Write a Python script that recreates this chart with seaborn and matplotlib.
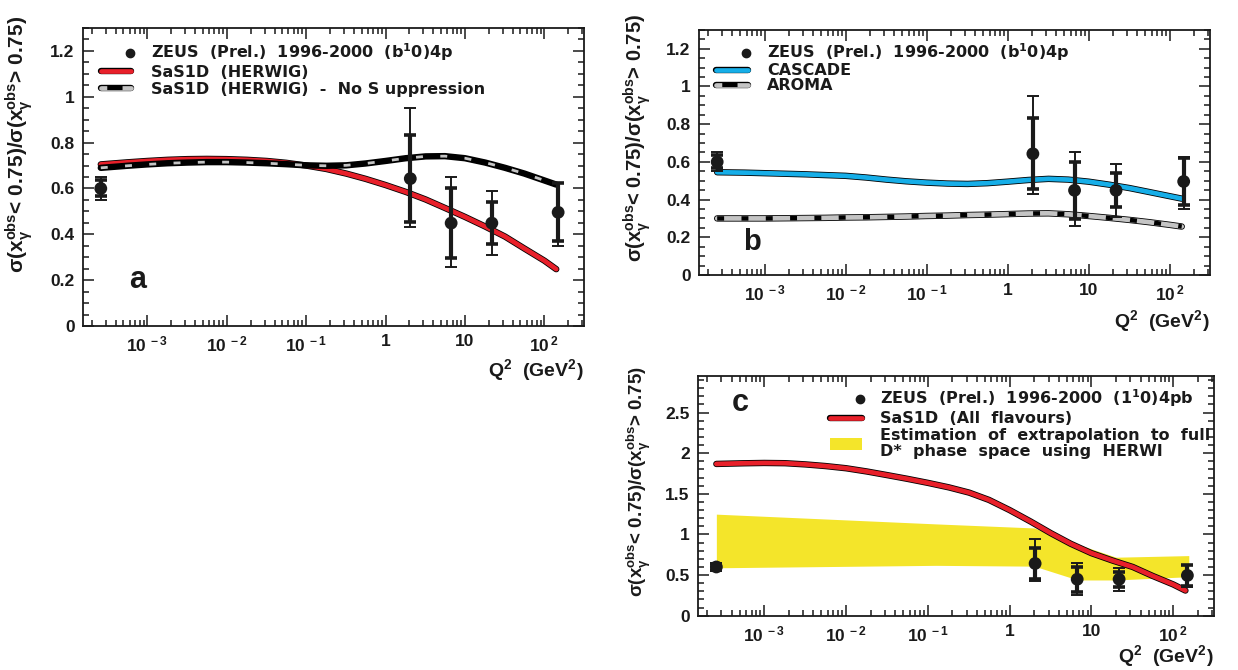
import matplotlib
matplotlib.use("Agg")
import matplotlib.pyplot as plt
import matplotlib.patheffects as pe
from matplotlib.lines import Line2D
from matplotlib.patches import Patch
from matplotlib.legend_handler import HandlerLine2D
from matplotlib.ticker import LogLocator, MultipleLocator, NullFormatter, FuncFormatter
import seaborn as sns

# ZEUS points (same measurement in all three panels)
q2_points = [2.6e-4, 2.05, 6.7, 21.8, 149.0]
ratio_points = [0.600, 0.643, 0.449, 0.449, 0.496]
stat_err_down = [0.035, 0.188, 0.151, 0.091, 0.124]
stat_err_up = [0.035, 0.190, 0.151, 0.094, 0.127]
tot_err_down = [0.050, 0.213, 0.190, 0.139, 0.147]
tot_err_up = [0.050, 0.307, 0.203, 0.141, 0.130]

q2_curve = [2.6e-4, 5.6e-4, 1e-3, 1.8e-3, 3.2e-3, 5.6e-3, 1e-2, 1.8e-2, 3.2e-2, 5.6e-2,
            0.1, 0.18, 0.32, 0.56, 1.0, 1.8, 3.2, 5.6, 10.0, 18.0, 32.0, 56.0, 100.0, 141.0]
sas1d_herwig = [0.705, 0.714, 0.720, 0.725, 0.728, 0.729, 0.728, 0.725, 0.720, 0.712,
                0.700, 0.685, 0.665, 0.642, 0.615, 0.585, 0.552, 0.515, 0.476, 0.434,
                0.390, 0.338, 0.285, 0.248]
sas1d_no_supp = [0.690, 0.699, 0.705, 0.710, 0.713, 0.715, 0.715, 0.713, 0.710, 0.706,
                 0.701, 0.699, 0.701, 0.709, 0.720, 0.732, 0.740, 0.741, 0.732, 0.713,
                 0.690, 0.665, 0.635, 0.617]
cascade = [0.545, 0.543, 0.540, 0.537, 0.534, 0.530, 0.526, 0.517, 0.506, 0.497,
           0.490, 0.485, 0.483, 0.487, 0.495, 0.504, 0.510, 0.506, 0.495, 0.479,
           0.461, 0.440, 0.418, 0.405]
aroma = [0.300, 0.300, 0.300, 0.301, 0.302, 0.303, 0.305, 0.306, 0.308, 0.310,
         0.313, 0.315, 0.318, 0.320, 0.323, 0.326, 0.327, 0.322, 0.313, 0.303,
         0.292, 0.280, 0.266, 0.257]
sas1d_all_flav = [1.868, 1.876, 1.880, 1.877, 1.862, 1.842, 1.815, 1.775, 1.730, 1.685,
                  1.635, 1.580, 1.515, 1.425, 1.300, 1.160, 1.015, 0.885, 0.770, 0.680,
                  0.600, 0.490, 0.385, 0.310]

# HERWIG extrapolation band (panel c)
band_q2 = [2.6e-4, 0.126, 2.0, 6.8, 20.0, 155.0]
band_low = [0.59, 0.62, 0.61, 0.44, 0.44, 0.48]
band_high = [1.25, 1.13, 1.08, 0.88, 0.72, 0.74]

x_tick_pos = [1e-3, 1e-2, 1e-1, 1, 10, 100]
x_tick_labels = [r"10$^{\,-3}$", r"10$^{\,-2}$", r"10$^{\,-1}$", "1", "10", r"10$^{\,2}$"]

YLABEL = r"σ(x$_{\gamma}^{obs}$< 0.75)/σ(x$_{\gamma}^{obs}$> 0.75)"
XLABEL = r"Q$^{2}$  (GeV$^{2}$)"

RED = "#e8202a"
BLUE = "#16aee8"
GREY = "#c4c4c4"
YELLOW = "#f4e52a"
INK = "#1a1a1a"

sns.set_style("ticks")
plt.rcParams["font.family"] = ["Liberation Sans", "DejaVu Sans"]
plt.rcParams["font.weight"] = "bold"
plt.rcParams["axes.labelweight"] = "bold"
plt.rcParams["mathtext.default"] = "regular"
plt.rcParams["lines.scale_dashes"] = False

outline = [pe.Stroke(linewidth=4.6, foreground="black"), pe.Normal()]
LEGEND_FONT = {"family": "DejaVu Sans", "weight": "bold", "size": 11.5}


class MarkerAtEnd(HandlerLine2D):
    # put the data marker at the right end of the legend handle
    def get_xdata(self, legend, xdescent, ydescent, width, height, fontsize):
        x = [-xdescent + 0.9 * width, -xdescent + width]
        return x, x


def style_axis(ax, ymax, ymajor, yminor):
    ax.set_xscale("log")
    ax.set_xlim(1.55e-4, 315)
    ax.set_ylim(0, ymax)
    ax.set_xticks(x_tick_pos)
    ax.set_xticklabels(x_tick_labels)
    ax.xaxis.set_minor_locator(LogLocator(base=10, subs=range(2, 10), numticks=20))
    ax.xaxis.set_minor_formatter(NullFormatter())
    ax.yaxis.set_major_locator(MultipleLocator(ymajor))
    ax.yaxis.set_minor_locator(MultipleLocator(yminor))
    ax.yaxis.set_major_formatter(FuncFormatter(lambda v, p: f"{v:g}"))
    ax.tick_params(which="both", direction="in", top=True, right=True, width=1.1, colors=INK)
    ax.tick_params(which="major", length=8, labelsize=12.5, pad=6)
    ax.tick_params(which="minor", length=4)
    for s in ax.spines.values():
        s.set_visible(True)
        s.set_linewidth(1.3)
        s.set_color(INK)


def draw_points(ax):
    ax.errorbar(q2_points, ratio_points, yerr=[tot_err_down, tot_err_up], fmt="none",
                ecolor=INK, elinewidth=1.4, capsize=4, capthick=1.4, zorder=6)
    ax.errorbar(q2_points, ratio_points, yerr=[stat_err_down, stat_err_up], fmt="none",
                ecolor=INK, elinewidth=3, capsize=4, capthick=2.6, zorder=6)
    sns.scatterplot(x=q2_points, y=ratio_points, ax=ax, color=INK, s=85,
                    edgecolor="none", zorder=7)


def dashed_band(ax, y, base, dash, dash_lw):
    # thick outlined line with a dashed line on top
    sns.lineplot(x=q2_curve, y=y, ax=ax, color=base, lw=3.4, path_effects=outline, zorder=4)
    sns.lineplot(x=q2_curve, y=y, ax=ax, color=dash, lw=dash_lw,
                 linestyle=(0, (5, 12.5)), zorder=5)


def dashed_handle(base, mid):
    h1 = Line2D([], [], color=base, lw=3.4, path_effects=outline)
    h2 = Line2D([], [], color=mid, lw=3.0, linestyle=(0, (0.01, 4.5, 11, 100)))
    return (h1, h2)


def add_legend(ax, handles, labels, anchor, hlen, hpad, spacing, linespacing=1.0):
    leg = ax.legend(handles, labels, loc="upper left", bbox_to_anchor=anchor, frameon=False,
                    prop=LEGEND_FONT, handlelength=hlen, handletextpad=hpad,
                    labelspacing=spacing, borderaxespad=0, borderpad=0, numpoints=1,
                    handler_map={zeus_handle: MarkerAtEnd(numpoints=1)})
    for t in leg.get_texts():
        t.set_color(INK)
        t.set_linespacing(linespacing)
    return leg


fig = plt.figure(figsize=(12.38, 6.70), dpi=100)
ax_a = fig.add_axes([0.067, 0.5134, 0.4047, 0.4448])
ax_b = fig.add_axes([0.5646, 0.5896, 0.4128, 0.3657])
ax_c = fig.add_axes([0.5638, 0.0810, 0.4168, 0.3578])

zeus_handle = Line2D([], [], marker="o", color=INK, linestyle="none", markersize=6)
red_handle = Line2D([], [], color=RED, lw=3.4, path_effects=outline)
blue_handle = Line2D([], [], color=BLUE, lw=3.4, path_effects=outline)

# ---- panel a ----
style_axis(ax_a, 1.3, 0.2, 0.05)
sns.lineplot(x=q2_curve, y=sas1d_herwig, ax=ax_a, color=RED, lw=3.4, path_effects=outline, zorder=4)
dashed_band(ax_a, sas1d_no_supp, "black", GREY, 2.0)
draw_points(ax_a)
add_legend(ax_a, [zeus_handle, red_handle, dashed_handle(GREY, "black")],
           [r"ZEUS  (Prel.)  1996-2000  (b$^{1}$0)4p", "SaS1D  (HERWIG)",
            "SaS1D  (HERWIG)  -  No S uppression"],
           (0.036, 0.955), 1.9, 1.25, 0.12)
ax_a.text(0.11, 0.154, "a", transform=ax_a.transAxes, fontsize=22, fontweight="bold",
          ha="center", va="center", color=INK)
ax_a.set_ylabel(YLABEL, fontsize=15, color=INK)
ax_a.yaxis.set_label_coords(-0.096, 0.61)
ax_a.set_xlabel(XLABEL, fontsize=14, color=INK, ha="right")
ax_a.xaxis.set_label_coords(1.0, -0.104)

# ---- panel b ----
style_axis(ax_b, 1.3, 0.2, 0.05)
sns.lineplot(x=q2_curve, y=cascade, ax=ax_b, color=BLUE, lw=3.4, path_effects=outline, zorder=4)
dashed_band(ax_b, aroma, GREY, "black", 3.2)
draw_points(ax_b)
add_legend(ax_b, [zeus_handle, blue_handle, dashed_handle(GREY, "black")],
           [r"ZEUS  (Prel.)  1996-2000  (b$^{1}$0)4p", "CASCADE", "AROMA"],
           (0.033, 0.952), 2.0, 1.2, 0.0)
ax_b.text(0.104, 0.135, "b", transform=ax_b.transAxes, fontsize=21, fontweight="bold",
          ha="center", va="center", color=INK)
ax_b.set_ylabel(YLABEL, fontsize=14.5, color=INK)
ax_b.yaxis.set_label_coords(-0.09, 0.56)
ax_b.set_xlabel(XLABEL, fontsize=14, color=INK, ha="right")
ax_b.xaxis.set_label_coords(1.0, -0.135)

# ---- panel c ----
style_axis(ax_c, 2.95, 0.5, 0.1)
ax_c.fill_between(band_q2, band_low, band_high, color=YELLOW, lw=0, zorder=2)
sns.lineplot(x=q2_curve, y=sas1d_all_flav, ax=ax_c, color=RED, lw=3.4, path_effects=outline, zorder=4)
draw_points(ax_c)
add_legend(ax_c, [zeus_handle, red_handle, Patch(facecolor=YELLOW, edgecolor="none")],
           [r"ZEUS  (Prel.)  1996-2000  (1$^{1}$0)4pb", "SaS1D  (All  flavours)",
            "Estimation  of  extrapolation  to  full\nD*  phase  space  using  HERWI"],
           (0.256, 0.952), 2.0, 1.1, 0.12, linespacing=1.1)
ax_c.text(0.081, 0.887, "c", transform=ax_c.transAxes, fontsize=22, fontweight="bold",
          ha="center", va="center", color=INK)
ax_c.set_ylabel(YLABEL, fontsize=13.5, color=INK)
ax_c.yaxis.set_label_coords(-0.087, 0.56)
ax_c.set_xlabel(XLABEL, fontsize=14, color=INK, ha="right")
ax_c.xaxis.set_label_coords(1.0, -0.115)

fig.savefig("out.png", dpi=100, facecolor="white")
